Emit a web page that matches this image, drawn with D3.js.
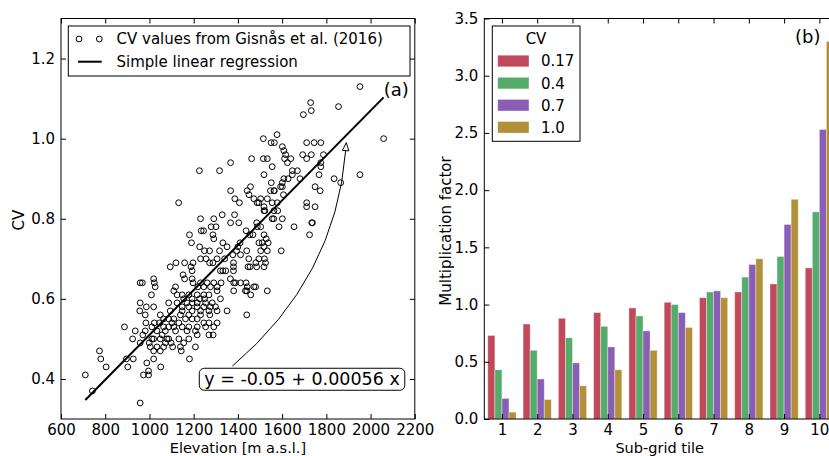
<!DOCTYPE html>
<html>
<head>
<meta charset="utf-8">
<script src="https://cdn.jsdelivr.net/npm/d3@7"></script>
<style>
  body { margin: 0; background: #fff; }
  svg { display: block; font-family: "DejaVu Sans", sans-serif; }
</style>
</head>
<body>
<script>
// panel (a): elevation [m a.s.l.] vs CV
const gisnasPoints = [
  [1132,0.84],[1226,0.92],[1317,0.92],[1367,0.94],[1367,0.87],[1386,0.85],[1407,0.84],[1462,0.95],[1457,0.88],[1442,0.87],
  [1450,0.86],[1472,0.85],[1495,0.84],[1518,0.82],[1518,0.83],[1533,0.85],[1555,0.84],[1515,1.00],[1515,0.95],[1533,0.95],
  [1518,0.91],[1555,0.93],[1550,0.99],[1565,0.99],[1577,1.01],[1547,0.87],[1565,0.87],[1551,0.89],[1601,0.98],[1608,0.97],
  [1616,0.96],[1611,0.95],[1639,0.95],[1624,0.94],[1601,0.88],[1606,0.86],[1601,0.89],[1608,0.90],[1627,0.90],[1646,0.92],
  [1646,0.91],[1669,0.92],[1681,0.90],[1580,0.82],[1601,0.80],[1562,0.80],[1696,1.06],[1732,1.07],[1729,1.09],[1693,0.96],
  [1732,0.96],[1711,0.95],[1711,0.99],[1745,0.99],[1775,0.99],[1787,0.96],[1775,0.94],[1775,0.93],[1767,0.91],[1772,0.87],
  [1749,0.88],[1711,0.84],[1711,0.83],[1749,0.83],[1737,0.79],[1835,0.90],[1865,0.89],[1952,0.91],[1855,1.08],[1952,1.13],
  [2059,1.00],
  [1231,0.80],[1279,0.78],[1301,0.78],[1367,0.79],[1404,0.79],[1485,0.79],[1488,0.78],[1503,0.78],[1586,0.78],[1654,0.78],
  [1734,0.79],[1724,0.76],[1555,0.80],[1181,0.76],[1234,0.77],[1287,0.76],[1291,0.75],[1190,0.74],[1332,0.74],[1351,0.73],
  [1410,0.74],[1400,0.73],[1437,0.77],[1454,0.76],[1468,0.76],[1518,0.76],[1528,0.75],[1537,0.74],[1495,0.74],[1510,0.74],
  [1518,0.73],[1503,0.72],[1533,0.72],[1596,0.72],[1440,0.72],[1394,0.72],[1227,0.73],[1249,0.72],[1272,0.72],[1317,0.72],
  [1377,0.71],[1412,0.71],[1449,0.70],[1495,0.70],[1520,0.70],[1481,0.69],[1094,0.68],[1120,0.69],[1159,0.69],[1197,0.69],
  [1188,0.68],[1231,0.70],[1256,0.70],[1272,0.69],[1287,0.69],[1306,0.70],[1340,0.70],[1380,0.69],[1380,0.68],[1380,0.67],
  [1332,0.67],[1345,0.67],[1321,0.67],[1193,0.67],[1152,0.66],[1159,0.65],[1193,0.65],[1197,0.64],[1231,0.64],[1261,0.64],
  [1291,0.64],[1324,0.64],[1366,0.65],[1381,0.64],[1412,0.64],[1437,0.64],[1442,0.63],[1480,0.63],[1440,0.62],[1458,0.61],
  [1381,0.62],[1321,0.60],[1351,0.57],[1306,0.63],[1276,0.63],[1246,0.63],[1219,0.63],[1118,0.63],[1110,0.62],[1125,0.61],
  [1148,0.61],[1178,0.61],[1216,0.61],[1246,0.61],[1269,0.61],[1306,0.62],[1249,0.60],[1227,0.60],[1193,0.60],[1155,0.60],
  [1087,0.59],[1125,0.59],[1170,0.59],[1193,0.59],[1216,0.59],[1254,0.59],[1284,0.59],[1299,0.58],[1276,0.58],[1246,0.58],
  [1216,0.58],[1178,0.58],[1148,0.58],[1094,0.57],[1148,0.57],[1193,0.57],[1231,0.57],[1269,0.57],[1306,0.57],[1140,0.56],
  [1178,0.56],[1231,0.56],[1273,0.56],[1440,0.56],[1049,0.56],[1019,0.58],[986,0.58],[956,0.57],[981,0.56],[958,0.59],
  [958,0.64],[968,0.64],[1019,0.65],[1022,0.64],[1026,0.63],[1009,0.61],[1064,0.55],[1046,0.54],[1064,0.53],[1087,0.55],
  [1110,0.55],[1102,0.54],[1133,0.54],[1163,0.55],[1193,0.55],[1216,0.55],[1246,0.54],[1269,0.54],[1306,0.54],[1291,0.53],
  [1254,0.53],[1216,0.53],[1178,0.53],[1148,0.53],[1110,0.53],[1087,0.53],[1011,0.53],[984,0.54],[1022,0.54],[1034,0.52],
  [1072,0.52],[1118,0.52],[1170,0.52],[1208,0.52],[981,0.52],[936,0.52],[887,0.53],[924,0.50],[970,0.51],[1011,0.50],
  [1057,0.51],[1087,0.50],[1133,0.50],[1178,0.50],[1216,0.51],[1269,0.51],[1288,0.51],[1098,0.49],[1072,0.49],[1155,0.49],
  [958,0.49],[999,0.49],[1064,0.48],[1105,0.48],[1140,0.48],[1208,0.48],[1034,0.48],[1019,0.47],[1049,0.47],[1144,0.47],
  [1019,0.45],[1181,0.45],[927,0.45],[896,0.45],[774,0.47],[780,0.45],[804,0.43],[902,0.43],[988,0.44],[1051,0.43],
  [996,0.42],[996,0.41],[973,0.41],[710,0.41],[742,0.37],[958,0.34],[1455,0.68],[1446,0.68],[1485,0.68],[1518,0.68],
  [1525,0.69],[1487,0.84],[1503,0.85],[1593,0.88],[1578,0.84],[1563,0.82],[1522,0.82],[1563,0.87],[1291,0.80],[1329,0.81],
  [1385,0.81],[1245,0.77],[1533,0.62],[1434,0.62],[1472,0.63],[1389,0.64],[1004,0.48],[1019,0.50],[1049,0.50],[1079,0.50]
];
const regIntercept = -0.05;
const regSlope = 0.00056;
const elevTicks = [600, 800, 1000, 1200, 1400, 1600, 1800, 2000, 2200];
const cvTicks = [0.4, 0.6, 0.8, 1.0, 1.2];

// panel (b): multiplication factor per sub-grid tile
const tiles = [1, 2, 3, 4, 5, 6, 7, 8, 9, 10];
const cvLevels = ["0.17", "0.4", "0.7", "1.0"];
const factorCv017 = [0.73, 0.83, 0.88, 0.93, 0.97, 1.02, 1.06, 1.11, 1.18, 1.32];
const factorCv04  = [0.43, 0.60, 0.71, 0.81, 0.90, 1.00, 1.11, 1.24, 1.42, 1.81];
const factorCv07  = [0.18, 0.35, 0.49, 0.63, 0.77, 0.93, 1.12, 1.35, 1.70, 2.53];
const factorCv10  = [0.06, 0.17, 0.29, 0.43, 0.60, 0.80, 1.06, 1.40, 1.92, 3.30];
const factorTicks = [0.0, 0.5, 1.0, 1.5, 2.0, 2.5, 3.0, 3.5];
const barColors = ["#c2495b", "#55ac6a", "#8b5eb5", "#b2903a"];

const W = 829, H = 456, FS = 15;
const svg = d3.select("body").append("svg").attr("width", W).attr("height", H);

// ---------- panel (a)
const a = {left: 61, right: 414.8, top: 18.5, bottom: 419};
const x = d3.scaleLinear().domain([600, 2200]).range([a.left, a.right]);
const y = d3.scaleLinear().domain([0.3, 1.3]).range([a.bottom, a.top]);

const ga = svg.append("g");
ga.append("g").attr("transform", `translate(0,${a.bottom})`)
  .call(d3.axisBottom(x).tickValues(elevTicks).tickFormat(d3.format("d")).tickSizeInner(-5).tickSizeOuter(0).tickPadding(5));
ga.append("g").attr("transform", `translate(0,${a.top})`)
  .call(d3.axisTop(x).tickValues(elevTicks).tickFormat("").tickSizeInner(-5).tickSizeOuter(0));
ga.append("g").attr("transform", `translate(${a.left},0)`)
  .call(d3.axisLeft(y).tickValues(cvTicks).tickFormat(d3.format(".1f")).tickSizeInner(-5).tickSizeOuter(0).tickPadding(6));
ga.append("g").attr("transform", `translate(${a.right},0)`)
  .call(d3.axisRight(y).tickValues(cvTicks).tickFormat("").tickSizeInner(-5).tickSizeOuter(0));
ga.selectAll(".domain").remove();
ga.selectAll(".tick text").attr("font-size", FS).attr("font-family", "DejaVu Sans").attr("fill", "#000");
ga.selectAll(".tick line").attr("stroke", "#000");
ga.append("rect").attr("x", a.left).attr("y", a.top)
  .attr("width", a.right - a.left).attr("height", a.bottom - a.top)
  .attr("fill", "none").attr("stroke", "#000").attr("stroke-width", 1);

ga.append("g").selectAll("circle").data(gisnasPoints).join("circle")
  .attr("cx", d => x(d[0])).attr("cy", d => y(d[1])).attr("r", 2.9)
  .attr("fill", "none").attr("stroke", "#000").attr("stroke-width", 1);

const elevExtent = d3.extent(gisnasPoints, d => d[0]);
ga.append("line")
  .attr("x1", x(elevExtent[0])).attr("y1", y(regIntercept + regSlope * elevExtent[0]))
  .attr("x2", x(elevExtent[1])).attr("y2", y(regIntercept + regSlope * elevExtent[1]))
  .attr("stroke", "#000").attr("stroke-width", 2);

// annotation arrow (data coords)
const arrFrom = [1375, 0.432], arrCtrl = [1843, 0.652], arrTo = [1890, 0.99];
const p0 = [x(arrFrom[0]), y(arrFrom[1])], pc = [x(arrCtrl[0]), y(arrCtrl[1])], p1 = [x(arrTo[0]), y(arrTo[1])];
const ang = Math.atan2(p1[1] - pc[1], p1[0] - pc[0]);
const headLen = 8, headW = 3.2;
const base = [p1[0] - headLen * Math.cos(ang), p1[1] - headLen * Math.sin(ang)];
ga.append("path")
  .attr("d", `M${p0[0]},${p0[1]} Q${pc[0]},${pc[1]} ${base[0]},${base[1]}`)
  .attr("fill", "none").attr("stroke", "#000").attr("stroke-width", 1);
ga.append("path")
  .attr("d", `M${p1[0]},${p1[1]} L${base[0] + headW * Math.sin(ang)},${base[1] - headW * Math.cos(ang)} L${base[0] - headW * Math.sin(ang)},${base[1] + headW * Math.cos(ang)} Z`)
  .attr("fill", "#fff").attr("stroke", "#000").attr("stroke-width", 1);

const eqBox = ga.append("rect");
const eqText = ga.append("text").attr("x", x(1690)).attr("y", y(0.4)).attr("dy", "0.36em")
  .attr("text-anchor", "middle").attr("font-size", 17.5).text("y = -0.05 + 0.00056 x");
const eb = eqText.node().getBBox();
eqBox.attr("x", eb.x - 5).attr("y", eb.y - 1).attr("width", eb.width + 10).attr("height", eb.height + 2)
  .attr("rx", 5).attr("fill", "#fff").attr("stroke", "#000").attr("stroke-width", 1);

ga.append("text").attr("x", a.right - 31).attr("y", 96).attr("font-size", 18).text("(a)");

// legend (a)
const la = ga.append("g");
la.append("rect").attr("x", 68.3).attr("y", 26).attr("width", 341.7).attr("height", 50)
  .attr("fill", "#fff").attr("stroke", "#000").attr("stroke-width", 1);
[79, 99.3].forEach(cx => la.append("circle").attr("cx", cx).attr("cy", 39).attr("r", 2.9)
  .attr("fill", "none").attr("stroke", "#000"));
la.append("line").attr("x1", 78).attr("x2", 101.7).attr("y1", 61.7).attr("y2", 61.7)
  .attr("stroke", "#000").attr("stroke-width", 2);
la.append("text").attr("x", 116.5).attr("y", 39).attr("dy", "0.36em").attr("font-size", FS)
  .text("CV values from Gisnås et al. (2016)");
la.append("text").attr("x", 116.5).attr("y", 61.7).attr("dy", "0.36em").attr("font-size", FS)
  .text("Simple linear regression");

ga.append("text").attr("x", (a.left + a.right) / 2).attr("y", 452.5).attr("text-anchor", "middle")
  .attr("font-size", 14.5).text("Elevation [m a.s.l.]");
ga.append("text").attr("transform", `translate(24,220) rotate(-90)`).attr("text-anchor", "middle")
  .attr("font-size", FS).text("CV");

// ---------- panel (b)
const b = {left: 484.3, right: 837, top: 18.5, bottom: 419};
const xb = d3.scaleLinear().domain([0.5, 10.5]).range([b.left, b.right]);
const yb = d3.scaleLinear().domain([0, 3.5]).range([b.bottom, b.top]);
const barWidth = 0.2;
const series = [factorCv017, factorCv04, factorCv07, factorCv10];

const gb = svg.append("g");
series.forEach((vals, j) => {
  gb.append("g").selectAll("rect").data(tiles).join("rect")
    .attr("x", t => xb(t - 0.4 + j * barWidth))
    .attr("width", xb(barWidth) - xb(0))
    .attr("y", (t, i) => yb(vals[i]))
    .attr("height", (t, i) => yb(0) - yb(vals[i]))
    .attr("fill", barColors[j])
    .attr("stroke", "#fff").attr("stroke-opacity", 0.45).attr("stroke-width", 0.8);
});

gb.append("g").attr("transform", `translate(0,${b.bottom})`)
  .call(d3.axisBottom(xb).tickValues(tiles).tickFormat(d3.format("d")).tickSizeInner(-5).tickSizeOuter(0).tickPadding(5));
gb.append("g").attr("transform", `translate(0,${b.top})`)
  .call(d3.axisTop(xb).tickValues(tiles).tickFormat("").tickSizeInner(-5).tickSizeOuter(0));
gb.append("g").attr("transform", `translate(${b.left},0)`)
  .call(d3.axisLeft(yb).tickValues(factorTicks).tickFormat(d3.format(".1f")).tickSizeInner(-5).tickSizeOuter(0).tickPadding(6));
gb.selectAll(".domain").remove();
gb.selectAll(".tick text").attr("font-size", FS).attr("font-family", "DejaVu Sans").attr("fill", "#000");
gb.selectAll(".tick line").attr("stroke", "#000");
gb.append("rect").attr("x", b.left).attr("y", b.top)
  .attr("width", b.right - b.left).attr("height", b.bottom - b.top)
  .attr("fill", "none").attr("stroke", "#000").attr("stroke-width", 1);

gb.append("text").attr("x", 795).attr("y", 43).attr("font-size", 18).text("(b)");

// legend (b)
const lb = gb.append("g");
lb.append("rect").attr("x", 492.3).attr("y", 26).attr("width", 87.7).attr("height", 115.3)
  .attr("fill", "#fff").attr("stroke", "#000").attr("stroke-width", 1);
lb.append("text").attr("x", 536).attr("y", 39).attr("dy", "0.36em").attr("text-anchor", "middle")
  .attr("font-size", FS).text("CV");
cvLevels.forEach((lvl, j) => {
  const cy = 61 + j * 22.1;
  lb.append("rect").attr("x", 497.7).attr("y", cy - 5.8).attr("width", 31.3).attr("height", 11.6)
    .attr("fill", barColors[j]).attr("stroke", "#fff").attr("stroke-opacity", 0.45).attr("stroke-width", 0.8);
  lb.append("text").attr("x", 541).attr("y", cy).attr("dy", "0.36em").attr("font-size", FS).text(lvl);
});

gb.append("text").attr("x", (b.left + 837) / 2 - 1).attr("y", 452.5).attr("text-anchor", "middle")
  .attr("font-size", 14.5).text("Sub-grid tile");
gb.append("text").attr("transform", `translate(451,231) rotate(-90)`).attr("text-anchor", "middle")
  .attr("font-size", FS).text("Multiplication factor");
</script>
</body>
</html>
